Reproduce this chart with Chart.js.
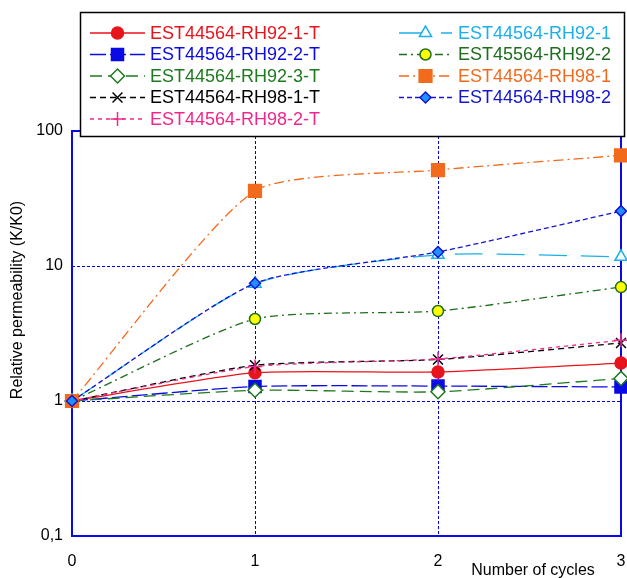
<!DOCTYPE html>
<html>
<head>
<meta charset="utf-8">
<title>Relative permeability</title>
<script src="https://cdn.jsdelivr.net/npm/chart.js@4.4.0/dist/chart.umd.min.js"></script>
<style>
    html, body { margin: 0; padding: 0; background: #ffffff; }
    canvas { display: block; }
</style>
</head>
<body>
<canvas id="permChart" width="627" height="578"></canvas>
<script>
// Number of freeze/thaw cycles on the x axis
const cycles = [0, 1, 2, 3];

// Relative permeability K/K0 per sample
const rh92_1_T = [1, 1.62, 1.64, 1.91];
const rh92_2_T = [1, 1.28, 1.29, 1.27];
const rh92_3_T = [1, 1.20, 1.17, 1.47];
const rh98_1_T = [1, 1.84, 2.03, 2.69];
const rh98_2_T = [1, 1.80, 2.05, 2.82];
const rh92_1 = [1, 7.4, 12.1, 11.7];
const rh92_2 = [1, 4.05, 4.64, 6.98];
const rh98_1 = [1, 36, 51.4, 66];
const rh98_2 = [1, 7.45, 12.7, 25.5];

const seriesNames = [
    'EST44564-RH92-1-T', 'EST44564-RH92-2-T', 'EST44564-RH92-3-T',
    'EST44564-RH98-1-T', 'EST44564-RH98-2-T',
    'EST44564-RH92-1', 'EST45564-RH92-2', 'EST44564-RH98-1', 'EST44564-RH98-2'
];
const seriesValues = [rh92_1_T, rh92_2_T, rh92_3_T, rh98_1_T, rh98_2_T, rh92_1, rh92_2, rh98_1, rh98_2];

// y axis ticks (log scale) and their labels
const yTicks = [0.1, 1, 10, 100];
const yTickLabels = ['0,1', '1', '10', '100'];

const yTitle = 'Relative permeability (K/K0)';
const xTitle = 'Number of cycles';

// Line/marker look of each series
const styles = [
    { color: '#e8141b', dash: [], point: 'circle', r: 6, fill: '#e8141b', pointBorder: '#e8141b' },
    { color: '#0a0ae6', dash: [16, 4], point: 'rect', r: 8.5, fill: '#0a0ae6', pointBorder: '#0a0ae6' },
    { color: '#1e7a1e', dash: [12, 6], point: 'rectRot', r: 7, fill: '#ffffff', pointBorder: '#1e7a1e' },
    { color: '#000000', dash: [6, 4], point: 'crossRot', r: 7, fill: '#000000', pointBorder: '#000000' },
    { color: '#f0288c', dash: [4, 4], point: 'cross', r: 7, fill: '#f0288c', pointBorder: '#f0288c' },
    { color: '#1ab0ea', dash: [28, 14], point: 'triangle', r: 7, fill: '#ffffff', pointBorder: '#1ab0ea' },
    { color: '#1e6e1e', dash: [8, 4, 2, 4], point: 'circle', r: 5.5, fill: '#ffff00', pointBorder: '#1e6e1e' },
    { color: '#f26b1d', dash: [10, 4, 2, 4], point: 'rect', r: 9, fill: '#f26b1d', pointBorder: '#f26b1d' },
    { color: '#1515d0', dash: [5, 3], point: 'rectRot', r: 5.5, fill: '#1e90ff', pointBorder: '#1515d0' }
];

const datasets = seriesValues.map((values, i) => {
    const s = styles[i];
    return {
        label: seriesNames[i],
        data: values.map((v, j) => ({ x: cycles[j], y: v })),
        borderColor: s.color,
        borderWidth: 1.3,
        borderDash: s.dash,
        tension: 0.2,
        pointStyle: s.point,
        pointRadius: s.r,
        pointBackgroundColor: s.fill,
        pointBorderColor: s.pointBorder,
        pointBorderWidth: 1.5,
        clip: false,
        order: seriesValues.length - i   // later series drawn on top
    };
});

const gridBlue = '#0000dd';

// Solid frame round the plot area
const framePlugin = {
    id: 'frame',
    beforeDatasetsDraw(chart) {
        const { ctx, chartArea: a } = chart;
        ctx.save();
        ctx.strokeStyle = '#0a0ae6';
        ctx.lineWidth = 2;
        ctx.strokeRect(a.left, a.top, a.right - a.left, a.bottom - a.top);
        ctx.restore();
    }
};

// Boxed two-column legend and the axis titles
const legendPlugin = {
    id: 'boxLegend',
    afterDraw(chart) {
        const ctx = chart.ctx;
        const drawPoint = Chart.helpers && Chart.helpers.drawPoint;
        ctx.save();

        ctx.fillStyle = '#ffffff';
        ctx.fillRect(80, 12, 545, 125);
        ctx.strokeStyle = '#000000';
        ctx.lineWidth = 1.5;
        ctx.strokeRect(80.5, 12.5, 544, 124);

        ctx.font = '18px "Liberation Sans", Arial, sans-serif';
        ctx.textBaseline = 'middle';
        chart.data.datasets.forEach((ds, i) => {
            const s = styles[i];
            const col = i < 5 ? 0 : 1;
            const row = i < 5 ? i : i - 5;
            const y = 33 + row * 21.5;
            const x0 = col === 0 ? 90 : 399;
            const x1 = col === 0 ? 145 : 452;
            const mx = (x0 + x1) / 2;

            ctx.strokeStyle = s.color;
            ctx.lineWidth = 1.5;
            ctx.setLineDash(s.dash);
            ctx.beginPath();
            ctx.moveTo(x0, y);
            ctx.lineTo(x1, y);
            ctx.stroke();
            ctx.setLineDash([]);

            if (drawPoint) {
                ctx.fillStyle = s.fill;
                ctx.strokeStyle = s.pointBorder;
                drawPoint(ctx, { pointStyle: s.point, radius: s.r, rotation: 0, borderWidth: 1.5 }, mx, y);
            }

            ctx.fillStyle = s.color;
            ctx.textAlign = 'left';
            ctx.fillText(ds.label, col === 0 ? 150 : 458, y + 1);
        });

        ctx.fillStyle = '#000000';
        ctx.font = '16px "Liberation Sans", Arial, sans-serif';
        ctx.textAlign = 'center';
        ctx.textBaseline = 'top';
        ctx.fillText(xTitle, 533, 563);

        ctx.translate(18, 300);
        ctx.rotate(-Math.PI / 2);
        ctx.textBaseline = 'middle';
        ctx.fillText(yTitle, 0, 0);
        ctx.restore();
    }
};

const ctx = document.getElementById('permChart').getContext('2d');
new Chart(ctx, {
    type: 'line',
    data: { datasets: datasets },
    options: {
        responsive: false,
        animation: false,
        events: [],
        layout: { autoPadding: false, padding: { top: 131, right: 6, left: 0, bottom: 0 } },
        plugins: {
            legend: { display: false },
            tooltip: { enabled: false }
        },
        scales: {
            x: {
                type: 'linear',
                min: 0,
                max: 3,
                ticks: {
                    stepSize: 1,
                    padding: 16,
                    color: '#000000',
                    font: { family: '"Liberation Sans", Arial, sans-serif', size: 16 },
                    callback: v => String(v)
                },
                grid: {
                    drawTicks: false,
                    lineWidth: 1,
                    color: c => (c.tick && c.tick.value > 0 && c.tick.value < 3) ? gridBlue : 'rgba(0,0,0,0)'
                },
                border: { display: false, dash: [3, 2] },
                afterFit: scale => {
                    scale.height = 42;
                    scale.paddingLeft = 0;
                    scale.paddingRight = 0;
                }
            },
            y: {
                type: 'logarithmic',
                min: 0.1,
                max: 100,
                afterBuildTicks: scale => { scale.ticks = yTicks.map(v => ({ value: v })); },
                ticks: {
                    padding: 9,
                    color: '#000000',
                    font: { family: '"Liberation Sans", Arial, sans-serif', size: 16 },
                    callback: v => {
                        const k = yTicks.indexOf(v);
                        return k >= 0 ? yTickLabels[k] : '';
                    }
                },
                grid: {
                    drawTicks: false,
                    lineWidth: 1,
                    color: c => (c.tick && (c.tick.value === 1 || c.tick.value === 10)) ? gridBlue : 'rgba(0,0,0,0)'
                },
                border: { display: false, dash: [3, 2] },
                afterFit: scale => {
                    scale.width = 72;
                    scale.paddingTop = 0;
                    scale.paddingBottom = 0;
                }
            }
        }
    },
    plugins: [framePlugin, legendPlugin]
});
</script>
</body>
</html>
